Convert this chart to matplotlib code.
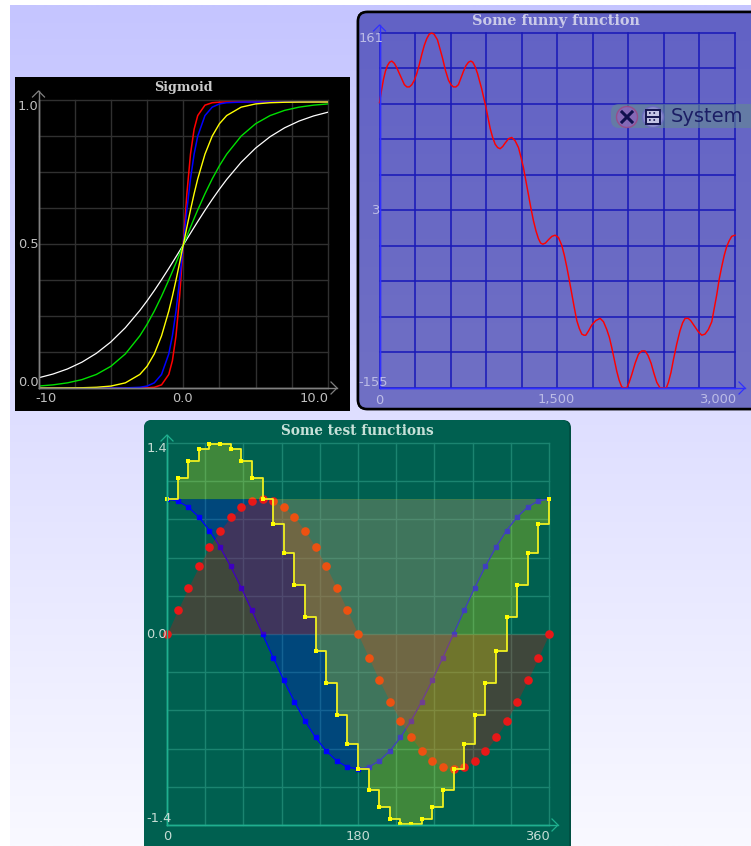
import numpy as np
import matplotlib
matplotlib.use("Agg")
import matplotlib.pyplot as plt
from matplotlib.patches import FancyBboxPatch, Circle

W, H = 751, 846

# sigmoid curves
sig_x = [-10, -9, -8, -7, -6, -5, -4, -3, -2.5, -2, -1.5, -1, -0.75, -0.5, -0.25, 0,
         0.25, 0.5, 0.75, 1, 1.5, 2, 2.5, 3, 4, 5, 6, 7, 8, 9, 10]
sig_white = [.0356, .0488, .0666, .0903, .1213, .1611, .2108, .2709, .3047, .3407, .3787, .4182, .4384, .4588, .4794, .5,
             .5206, .5412, .5616, .5818, .6213, .6593, .6953, .7291, .7892, .8389, .8787, .9097, .9334, .9512, .9644]
sig_green = [.0067, .0110, .0180, .0293, .0474, .0759, .1192, .1824, .2227, .2689, .3208, .3775, .4073, .4378, .4688, .5,
             .5312, .5622, .5927, .6225, .6792, .7311, .7773, .8176, .8808, .9241, .9526, .9707, .9820, .9890, .9933]
sig_yellow = [0, .0001, .0003, .0009, .0025, .0067, .0180, .0474, .0759, .1192, .1824, .2689, .3208, .3775, .4378, .5,
              .5622, .6225, .6792, .7311, .8176, .8808, .9241, .9526, .9820, .9933, .9975, .9991, .9997, .9999, 1]
sig_blue = [0, 0, 0, 0, 0, .0001, .0003, .0025, .0067, .0180, .0474, .1192, .1824, .2689, .3775, .5,
            .6225, .7311, .8176, .8808, .9526, .9820, .9933, .9975, .9997, .9999, 1, 1, 1, 1, 1]
sig_red = [0, 0, 0, 0, 0, 0, 0, .0001, .0006, .0025, .0110, .0474, .0953, .1824, .3208, .5,
           .6792, .8176, .9047, .9526, .9890, .9975, .9994, .9999, 1, 1, 1, 1, 1, 1, 1]

# funny function
fun_x = [0, 17, 34, 50, 67, 85, 104, 125, 146, 167, 188, 210, 231, 252, 273, 294, 315, 336, 357, 378,
         399, 420, 440, 460, 489, 510, 531, 556, 582, 603, 624, 645, 666, 688, 709, 730, 751, 770, 787, 807,
         827, 845, 863, 880, 900, 917, 934, 955, 976, 997, 1018, 1040, 1060, 1090, 1116, 1145, 1173, 1195,
         1215, 1236, 1257, 1278, 1299, 1320, 1341, 1360, 1378, 1400, 1426, 1455, 1482, 1510, 1538, 1560,
         1580, 1600, 1622, 1643, 1665, 1686, 1707, 1725, 1741, 1765, 1791, 1825, 1862, 1890, 1918, 1940,
         1960, 1980, 2002, 2022, 2044, 2065, 2086, 2107, 2129, 2157, 2185, 2213, 2241, 2266, 2292, 2316,
         2340, 2368, 2396, 2420, 2438, 2460, 2480, 2508, 2536, 2558, 2579, 2605, 2626, 2658, 2691, 2720,
         2747, 2775, 2804, 2825, 2846, 2867, 2888, 2909, 2930, 2951, 2972, 3000]
fun_y = [99, 110, 120, 127, 132, 135, 136, 134, 130, 125, 120, 115, 113, 113, 115, 119, 125, 133, 142, 150,
         156, 160, 161, 160, 155, 147, 139, 128, 119, 115, 113, 113, 115, 121, 127, 132, 135, 136, 135, 131,
         125, 118, 111, 103, 94, 85, 76, 68, 62, 59, 58, 60, 63, 67, 68, 65, 59, 50,
         41, 29, 17, 5, -6, -15, -22, -26, -27, -26, -23, -20, -19, -21, -28, -37,
         -47, -58, -71, -83, -95, -102, -107, -108, -108, -104, -99, -95, -93, -96, -103, -110,
         -119, -129, -140, -148, -154, -155, -155, -150, -143, -133, -125, -122, -122, -126, -133, -142,
         -150, -155, -155, -155, -150, -141, -130, -116, -104, -97, -93, -93, -95, -100, -105, -108,
         -107, -103, -96, -84, -72, -58, -47, -37, -29, -24, -20, -19]

# test functions
deg = list(range(0, 361, 10))
sin_v = [0, .174, .342, .5, .643, .766, .866, .94, .985, 1, .985, .94, .866, .766, .643, .5, .342, .174, 0,
         -.174, -.342, -.5, -.643, -.766, -.866, -.94, -.985, -1, -.985, -.94, -.866, -.766, -.643, -.5, -.342, -.174, 0]
cos_v = [1, .985, .94, .866, .766, .643, .5, .342, .174, 0, -.174, -.342, -.5, -.643, -.766, -.866, -.94, -.985, -1,
         -.985, -.94, -.866, -.766, -.643, -.5, -.342, -.174, 0, .174, .342, .5, .643, .766, .866, .94, .985, 1]
sum_v = [1, 1.158, 1.282, 1.366, 1.409, 1.409, 1.366, 1.282, 1.158, 1, .811, .598, .366, .123, -.123, -.366, -.598, -.811, -1,
         -1.158, -1.282, -1.366, -1.409, -1.409, -1.366, -1.282, -1.158, -1, -.811, -.598, -.366, -.123, .123, .366, .598, .811, 1]

serif = "DejaVu Serif"
sans = "DejaVu Sans"

fig = plt.figure(figsize=(W / 100, H / 100), dpi=100, facecolor="white")


def px_axes(x0, y0, x1, y1, z=1):
    return fig.add_axes([x0 / W, 1 - y1 / H, (x1 - x0) / W, (y1 - y0) / H], zorder=z)


def gradient(ax, box, c0, c1, clip=None):
    c0 = np.array(matplotlib.colors.to_rgb(c0))
    c1 = np.array(matplotlib.colors.to_rgb(c1))
    t = np.linspace(0, 1, 256)[:, None, None]
    im = ax.imshow(c0 + (c1 - c0) * t, extent=box, aspect="auto", interpolation="bilinear")
    if clip is not None:
        im.set_clip_path(clip)
    return im


# background + panels, in pixels
bg = px_axes(0, 0, W, H, 0)
gradient(bg, (10, W, H, 5), "#c5c5ff", "#f9f9ff")
p = FancyBboxPatch((358, 12), 420, 397, boxstyle="round,pad=0,rounding_size=9", fc="#6868c4", ec="black", lw=1.8, zorder=3)
bg.add_patch(p)
gradient(bg, (358, W, 409, 12), "#6262c6", "#7070c4", clip=p).set_zorder(4)
bg.add_patch(FancyBboxPatch((358, 12), 420, 397, boxstyle="round,pad=0,rounding_size=9", fc="none", ec="black", lw=1.8, zorder=5))
bg.add_patch(plt.Rectangle((15, 77), 335, 334, fc="black", ec="none", zorder=3))
bg.add_patch(FancyBboxPatch((144, 420), 427, 460, boxstyle="round,pad=0,rounding_size=8", fc="#004f42", ec="none", zorder=3))
bg.add_patch(FancyBboxPatch((144, 420), 425, 458, boxstyle="round,pad=0,rounding_size=8", fc="#006050", ec="none", zorder=4))
bg.set_xlim(0, W)
bg.set_ylim(H, 0)
bg.axis("off")


def setup(ax, xlim, ylim, xt, yt, grid, axis, glw=1.0):
    ax.set_xlim(*xlim)
    ax.set_ylim(*ylim)
    ax.set_xticks(xt)
    ax.set_yticks(yt)
    ax.patch.set_alpha(0)
    ax.tick_params(length=0, labelbottom=False, labelleft=False)
    ax.grid(True, color=grid, lw=glw)
    for g in ax.get_xgridlines() + ax.get_ygridlines():
        g.set_clip_on(False)
    ax.set_axisbelow(True)
    for s in ["top", "right"]:
        ax.spines[s].set_visible(False)
    for s in ["left", "bottom"]:
        ax.spines[s].set_color(axis)
        ax.spines[s].set_linewidth(1.0)


# sigmoid
ax1 = px_axes(38.5, 100, 328, 388, 2)
setup(ax1, (-10, 10), (0, 1.007), np.linspace(-10, 10, 9), np.linspace(0, 1.007, 9), "#303030", "#808080")
ax1.plot(sig_x, sig_red, color="#ff0000", lw=1.1)
ax1.plot(sig_x, sig_blue, color="#0000ff", lw=1.1)
ax1.plot(sig_x, sig_white, color="#ffffff", lw=0.9)
ax1.plot(sig_x, sig_green, color="#00e000", lw=1.0)
ax1.plot(sig_x, sig_yellow, color="#ffff00", lw=1.0)

# funny function
ax2 = px_axes(379.5, 33, 735, 388, 6)
setup(ax2, (0, 3000), (-155, 161), np.linspace(0, 3000, 11), np.linspace(-155, 161, 11), "#1a1ab8", "#3030ff", glw=1.15)
ax2.plot(fun_x, fun_y, color="#ff0000", lw=1.05, clip_on=False)

# test functions
ax3 = px_axes(167, 443, 549, 825, 6)
setup(ax3, (0, 360), (-1.414, 1.414), np.linspace(0, 360, 11), np.linspace(-1.414, 1.414, 11), "#1b8470", "#1fb08f")
ax3.fill_between(deg, cos_v, 1, color="#0000ff", alpha=0.25, lw=0, zorder=3)
ax3.plot(deg, cos_v, color="#0000ff", lw=0.9, marker="s", ms=2.6, zorder=3.1)
ax3.fill_between(deg, sin_v, 0, color="#ff0000", alpha=0.25, lw=0, zorder=3.2)
ax3.plot(deg, sin_v, ls="none", marker="o", ms=6.2, color="#e81818", mew=0, clip_on=False, zorder=3.3)
ax3.fill_between(deg, sum_v, 1, step="post", color="#ffff00", alpha=0.25, lw=0, zorder=3.4)
ax3.step(deg, sum_v, where="post", color="#f0f020", lw=1.3, clip_on=False, zorder=3.5)
ax3.plot(deg, sum_v, ls="none", marker="s", ms=3.2, color="#ffff00", mew=0, clip_on=False, zorder=3.6)

# labels, arrows, System button on top, in pixels
ov = px_axes(0, 0, W, H, 10)
ov.set_xlim(0, W)
ov.set_ylim(H, 0)
ov.axis("off")


def arrows(x, y, top, right, col):
    ov.plot([x, x], [y, top], color=col, lw=1.0)
    ov.plot([x, right], [y, y], color=col, lw=1.0)
    ov.plot([x - 6, x, x + 6], [top + 6, top, top + 6], color=col, lw=0.9)
    ov.plot([right - 6, right, right - 6], [y - 6, y, y + 6], color=col, lw=0.9)


def lab(x, y, s, col, ha="left", size=9.4, alpha=1.0):
    ov.text(x, y, s, color=col, ha=ha, va="center", fontsize=size, family=sans, alpha=alpha)


def title(x, y, s, col, size):
    ov.text(x, y, s, color=col, ha="center", va="center", fontsize=size, family=serif, weight="bold", alpha=0.92)


arrows(38.5, 388, 91, 337, "#808080")
title(183, 88, "Sigmoid", "#dcdcdc", 9.2)
c = "#c0c0c0"
lab(18, 106, "1.0", c)
lab(18, 245, "0.5", c)
lab(18, 382, "0.0", c)
lab(35, 399, "-10", c)
lab(182, 399, "0.0", c, ha="center")
lab(329, 399, "10.0", c, ha="right")

arrows(379.5, 388, 25, 745, "#3030ff")
title(556, 21, "Some funny function", "#d4d4ec", 10.4)
c = "#bcbce6"
lab(359, 39, "161", c)
lab(371, 211, "3", c)
lab(358, 383, "-155", c)
lab(379, 400, "0", c, ha="center")
lab(556, 400, "1,500", c, ha="center")
lab(736, 400, "3,000", c, ha="right")

arrows(167, 825, 435, 558, "#1fb08f")
title(357, 431, "Some test functions", "#d8ece4", 9.8)
c = "#c6dcd4"
lab(147, 448, "1.4", c)
lab(146, 634, "0.0", c)
lab(146, 819, "-1.4", c)
lab(167, 836, "0", c, ha="center")
lab(358, 836, "180", c, ha="center")
lab(550, 836, "360", c, ha="right")

# System button
ov.add_patch(FancyBboxPatch((611, 104), 160, 24, boxstyle="round,pad=0,rounding_size=8", fc="#648a90", ec="none", alpha=0.6))
ov.add_patch(Circle((627, 117), 10.5, fc="#8868b8", ec="#9a4a88", lw=1, alpha=0.9))
ov.plot([622, 632], [112, 122], color="#10104e", lw=2.2)
ov.plot([622, 632], [122, 112], color="#10104e", lw=2.2)
ov.add_patch(Circle((653, 117), 10.5, fc="#9090d0", ec="#6c6cc0", lw=1, alpha=0.9))
ov.add_patch(plt.Rectangle((646, 110), 14, 14, fc="#c4c4e4", ec="#14144e", lw=1.4))
ov.plot([646, 660], [117, 117], color="#14144e", lw=1.4)
ov.plot([649, 657], [113.5, 113.5], color="#14144e", lw=1.2, ls=":")
ov.plot([649, 657], [120.5, 120.5], color="#14144e", lw=1.2, ls=":")
ov.text(671, 117, "System", color="#14145e", fontsize=14, family=sans, ha="left", va="center", alpha=0.9)

fig.savefig("out.png", dpi=100)
